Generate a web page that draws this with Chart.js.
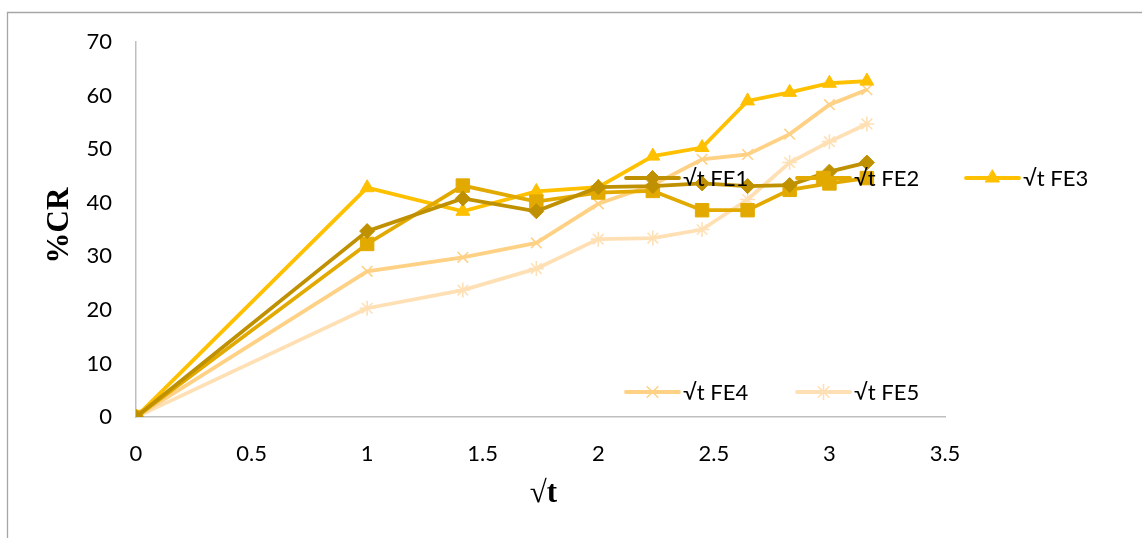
<!DOCTYPE html>
<html>
<head>
<meta charset="utf-8">
<script src="https://cdn.jsdelivr.net/npm/chart.js@4/dist/chart.umd.min.js"></script>
<style>
  html, body { margin: 0; padding: 0; background: #fff; }
  canvas { display: block; }
</style>
</head>
<body>
<canvas id="c" width="1142" height="538"></canvas>
<script>
// √t sampling points (hours)
const sqrtT = [0, 1, 1.414, 1.732, 2, 2.236, 2.449, 2.646, 2.828, 3, 3.162];

// Cumulative release (%CR) for each formulation
const fe1 = [0, 34.7, 40.8, 38.4, 42.9, 43.1, 43.6, 43.1, 43.3, 45.8, 47.5];
const fe2 = [0, 32.3, 43.2, 40.2, 41.9, 42.2, 38.6, 38.6, 42.4, 43.6, 44.6];
const fe3 = [0, 42.8, 38.4, 42.1, 42.9, 48.7, 50.3, 59.0, 60.6, 62.3, 62.7];
const fe4 = [0, 27.2, 29.8, 32.5, 39.8, 43.3, 48.1, 49.0, 52.8, 58.3, 61.1];
const fe5 = [0, 20.3, 23.7, 27.7, 33.2, 33.4, 35.0, 40.6, 47.5, 51.4, 54.7];

const seriesNames = ['√t FE1', '√t FE2', '√t FE3', '√t FE4', '√t FE5'];
const xTicks = [0, 0.5, 1, 1.5, 2, 2.5, 3, 3.5];
const yTicks = [0, 10, 20, 30, 40, 50, 60, 70];

const styles = [
  { color: '#BF9000', point: 'rectRot',  radius: 7.5 },
  { color: '#E2AA00', point: 'rect',     radius: 9.5 },
  { color: '#FFC000', point: 'triangle', radius: 8 },
  { color: '#FFD185', point: 'crossRot', radius: 7.5 },
  { color: '#FFE0B5', point: 'star',     radius: 7.5 }
];

const seriesValues = [fe1, fe2, fe3, fe4, fe5];

const datasets = seriesValues.map((vals, i) => ({
  label: seriesNames[i],
  data: vals.map((v, j) => ({ x: sqrtT[j], y: v })),
  borderColor: styles[i].color,
  backgroundColor: styles[i].color,
  pointBackgroundColor: styles[i].color,
  pointBorderColor: styles[i].color,
  pointBorderWidth: (styles[i].point === 'crossRot' || styles[i].point === 'star') ? 1.6 : 1,
  pointStyle: styles[i].point,
  pointRadius: styles[i].radius,
  borderWidth: 3.8,
  tension: 0,
  fill: false
}));

// legend entries sit inside the plot, in two rows
const legendSlots = [
  { x: 626, y: 178 }, { x: 797, y: 178 }, { x: 966, y: 178 },
  { x: 626, y: 392 }, { x: 797, y: 392 }
];

const tickFont = { family: 'Lato, Carlito, "Noto Sans", sans-serif', size: 22 };

const framePlugin = {
  id: 'frame',
  beforeDraw(chart) {
    const ctx = chart.ctx;
    ctx.save();
    ctx.fillStyle = '#fff';
    ctx.fillRect(0, 0, chart.width, chart.height);
    ctx.strokeStyle = '#A6A6A6';
    ctx.lineWidth = 1.3;
    ctx.beginPath();
    ctx.moveTo(7.5, chart.height);
    ctx.lineTo(7.5, 12.5);
    ctx.lineTo(chart.width, 12.5);
    ctx.stroke();
    ctx.restore();
  }
};

const titlesPlugin = {
  id: 'axisTitles',
  afterDraw(chart) {
    const ctx = chart.ctx;
    const a = chart.chartArea;
    ctx.save();
    ctx.fillStyle = '#000';
    ctx.textAlign = 'center';
    ctx.textBaseline = 'middle';
    ctx.font = 'bold 31px "Liberation Serif", "Times New Roman", serif';
    ctx.fillText('√t', (a.left + a.right) / 2 + 3, 494);
    ctx.translate(60, (a.top + a.bottom) / 2 - 4);
    ctx.rotate(-Math.PI / 2);
    ctx.fillText('%CR', 0, 0);
    ctx.restore();
  }
};

const legendPlugin = {
  id: 'inlineLegend',
  afterDatasetsDraw(chart) {
    const ctx = chart.ctx;
    ctx.save();
    chart.data.datasets.forEach((ds, i) => {
      const s = legendSlots[i];
      const len = 53;
      ctx.strokeStyle = ds.borderColor;
      ctx.lineWidth = ds.borderWidth;
      ctx.lineCap = 'round';
      ctx.beginPath();
      ctx.moveTo(s.x, s.y);
      ctx.lineTo(s.x + len, s.y);
      ctx.stroke();
      ctx.fillStyle = ds.pointBackgroundColor;
      ctx.strokeStyle = ds.pointBorderColor;
      ctx.lineWidth = ds.pointBorderWidth;
      Chart.helpers.drawPoint(ctx, {
        pointStyle: ds.pointStyle,
        radius: ds.pointRadius,
        rotation: 0,
        borderWidth: ds.pointBorderWidth
      }, s.x + len / 2, s.y);
      ctx.fillStyle = '#000';
      ctx.font = `${tickFont.size}px ${tickFont.family}`;
      ctx.textAlign = 'left';
      ctx.textBaseline = 'middle';
      ctx.fillText(ds.label, s.x + len + 4, s.y + 1);
    });
    ctx.restore();
  }
};

new Chart(document.getElementById('c'), {
  type: 'line',
  data: { datasets },
  options: {
    responsive: false,
    animation: false,
    events: [],
    layout: { padding: { left: 0, top: 42, right: 197, bottom: 0 } },
    scales: {
      x: {
        type: 'linear',
        min: xTicks[0],
        max: xTicks[xTicks.length - 1],
        afterBuildTicks(scale) { scale.ticks = xTicks.map(v => ({ value: v })); },
        ticks: { color: '#000', font: tickFont, padding: 24, maxRotation: 0,
                 callback: v => String(v) },
        grid: { display: false, drawTicks: false },
        border: { display: true, color: '#BFBFBF', width: 1.5 },
        afterFit(scale) { scale.height = 121; }
      },
      y: {
        type: 'linear',
        min: yTicks[0],
        max: yTicks[yTicks.length - 1],
        afterBuildTicks(scale) { scale.ticks = yTicks.map(v => ({ value: v })); },
        ticks: { color: '#000', font: tickFont, padding: 24, callback: v => String(v) },
        grid: { display: false, drawTicks: false },
        border: { display: true, color: '#BFBFBF', width: 1.5 },
        afterFit(scale) { scale.width = 136; }
      }
    },
    plugins: {
      legend: { display: false },
      tooltip: { enabled: false }
    }
  },
  plugins: [framePlugin, legendPlugin, titlesPlugin]
});
</script>
</body>
</html>
